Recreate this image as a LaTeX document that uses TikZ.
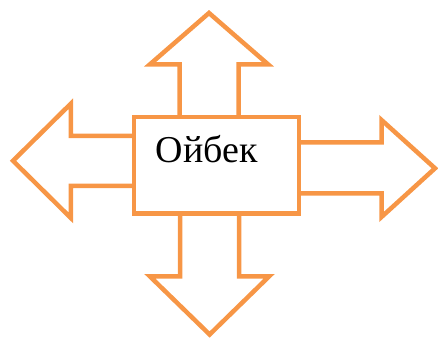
\documentclass[tikz,border=0pt]{standalone}
\usepackage{fontspec}
\setmainfont{Liberation Serif}
\usepackage{tikz}
\usetikzlibrary{positioning}
\usepackage{xcolor}
\definecolor{accentorange}{RGB}{247,150,70}

\begin{document}
\begin{tikzpicture}[
    centerbox/.style={rectangle, draw=accentorange, line width=3.2pt, fill=white,
                      minimum width=4.125cm, minimum height=2.4125cm, inner sep=0pt},
    namelabel/.style={font=\fontsize{27}{32}\selectfont, inner sep=0pt, anchor=base west},
    blockarrow/.style={draw=accentorange, line width=3.2pt, line join=miter}
]
    \useasboundingbox (0,0) rectangle (10.95,8.5);
    % four block arrows round the box
    \draw[blockarrow] (4.4925,5.575) -- (4.4925,6.8925) -- (3.75,6.8925) -- (5.225,8.175)
        -- (6.70,6.8925) -- (5.9675,6.8925) -- (5.9675,5.575);
    \draw[blockarrow] (4.5,3.1625) -- (4.5,1.5875) -- (3.75,1.5875) -- (5.24,0.1375)
        -- (6.725,1.5875) -- (5.98,1.5875) -- (5.98,3.1625);
    \draw[blockarrow] (3.35,5.105) -- (1.77,5.105) -- (1.77,5.9075) -- (0.325,4.48)
        -- (1.77,3.0525) -- (1.77,3.855) -- (3.35,3.855);
    \draw[blockarrow] (7.475,4.9375) -- (9.5375,4.9375) -- (9.5375,5.5) -- (10.875,4.2925)
        -- (9.5375,3.075) -- (9.5375,3.6675) -- (7.475,3.6675);
    % centre box and its name
    \node[centerbox] (box) at (5.4125,4.369) {};
    \node[namelabel] (name) at (3.89,4.425) {Ойбек};
\end{tikzpicture}
\end{document}
